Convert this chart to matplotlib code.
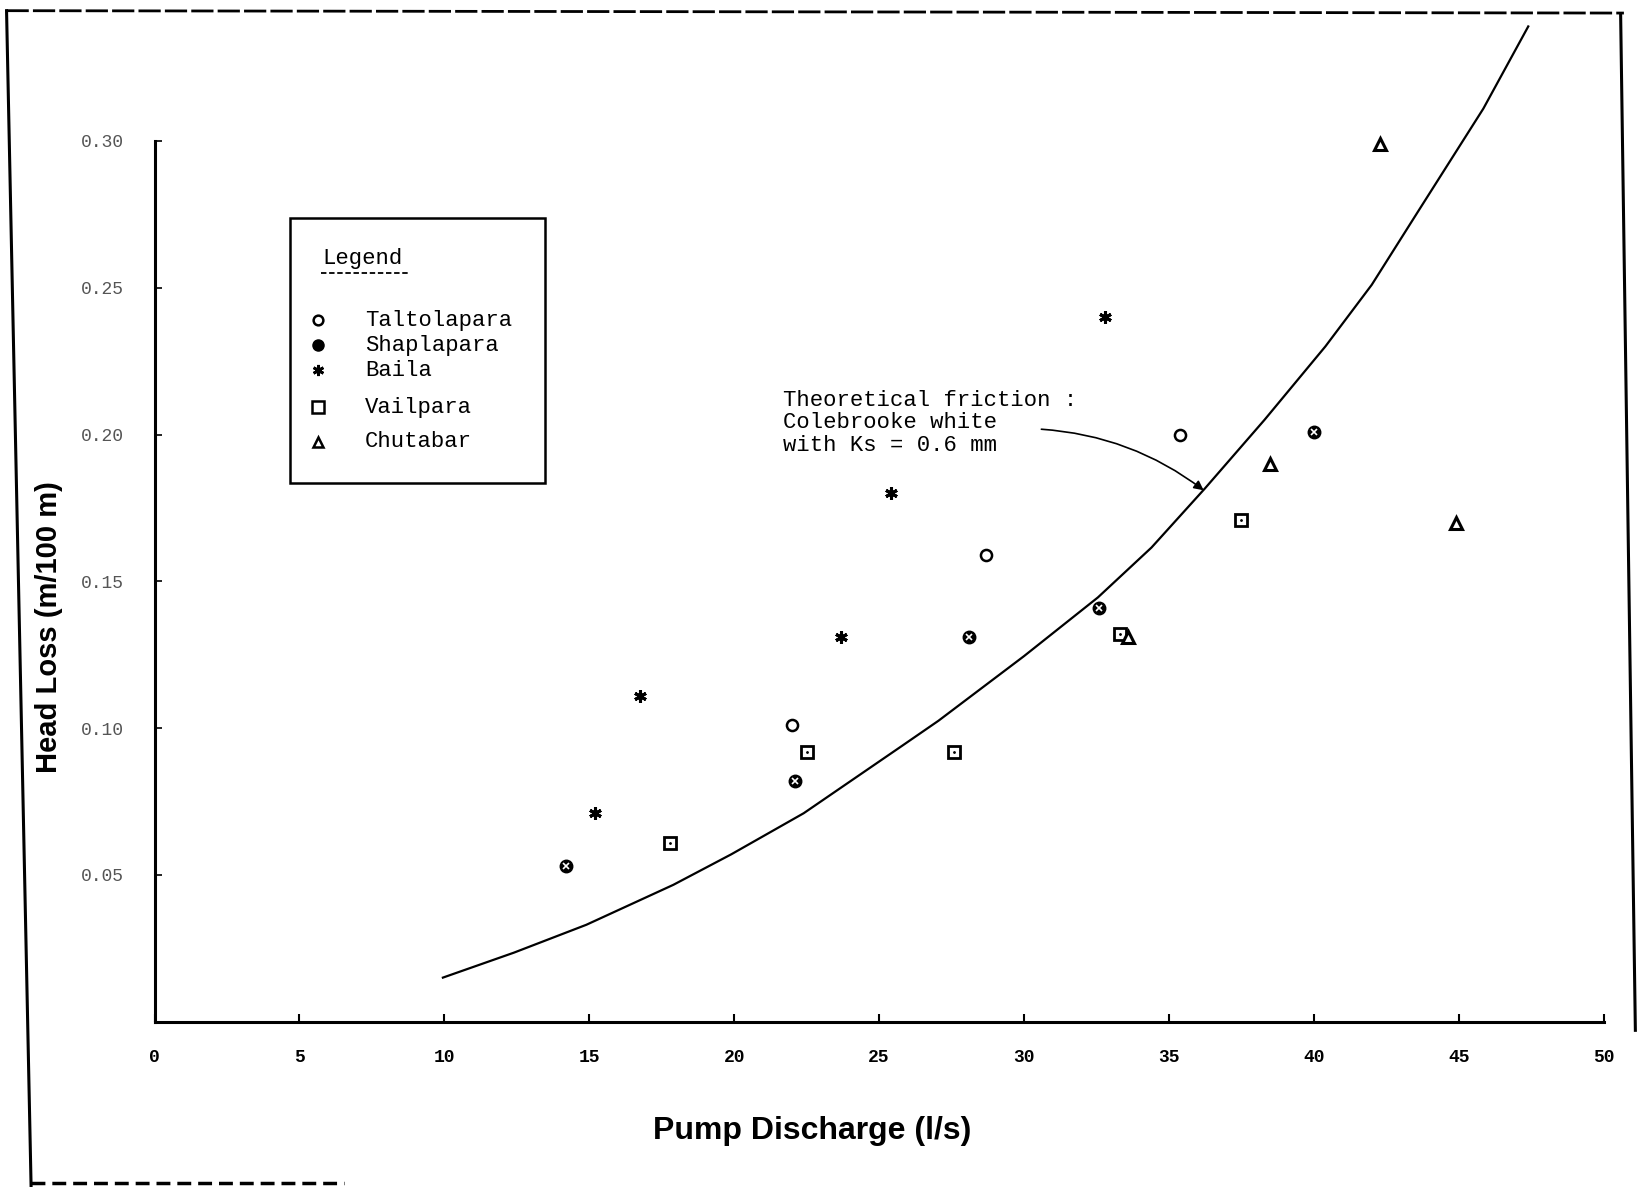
import numpy as np
import matplotlib.pyplot as plt
from matplotlib.lines import Line2D
from matplotlib.patches import Rectangle

# values
talto_q = [22.0, 28.7, 35.4]
talto_h = [0.101, 0.159, 0.200]

shapla_q = [14.2, 22.1, 28.1, 32.6, 40.0]
shapla_h = [0.053, 0.082, 0.131, 0.141, 0.201]

baila_q = [15.2, 16.75, 23.7, 25.4, 32.8]
baila_h = [0.071, 0.111, 0.131, 0.180, 0.240]

vail_q = [17.8, 22.5, 27.6, 33.3, 37.5]
vail_h = [0.061, 0.092, 0.092, 0.132, 0.171]

chuta_q = [33.6, 38.5, 44.9, 42.3]
chuta_h = [0.131, 0.190, 0.170, 0.299]

# theoretical curve (Colebrooke-White, Ks = 0.6 mm)
curve_q = [9.95, 12.4, 14.9, 17.9, 19.9, 22.4, 25.8, 27.05, 30.0, 32.55, 34.4,
           36.25, 38.3, 40.4, 42.0, 43.6, 45.85, 47.4]
curve_h = [0.015, 0.0235, 0.033, 0.0466, 0.057, 0.071, 0.094, 0.1025, 0.1245, 0.1445, 0.1615,
           0.1817, 0.205, 0.230, 0.251, 0.276, 0.311, 0.339]

xticks = [0, 5, 10, 15, 20, 25, 30, 35, 40, 45, 50]
yticks = [0.05, 0.10, 0.15, 0.20, 0.25, 0.30]

mono = ['Liberation Mono', 'DejaVu Sans Mono']
narrow = ['Liberation Sans Narrow', 'Liberation Sans', 'DejaVu Sans']

fig = plt.figure(figsize=(16.37, 11.87), dpi=100)
ax = fig.add_axes([0.0944, 0.1393, 0.8852, 0.8409])

ax.plot(curve_q, curve_h, color='black', lw=1.6, clip_on=False, solid_joinstyle='round')

ax.plot(talto_q, talto_h, 'o', ms=8, mfc='white', mec='black', mew=1.8, clip_on=False)
ax.plot(shapla_q, shapla_h, 'o', ms=9, mfc='black', mec='black', clip_on=False)
ax.plot(shapla_q, shapla_h, 'x', ms=4, mec='white', mew=1.2, clip_on=False)
ax.plot(baila_q, baila_h, marker=(6, 2, 0), ls='none', ms=9, mec='black', mew=2.2, clip_on=False)
ax.plot(vail_q, vail_h, 's', ms=8, mfc='white', mec='black', mew=2, clip_on=False)
ax.plot(vail_q, vail_h, '.', ms=2, color='black', clip_on=False)
ax.plot(chuta_q, chuta_h, '^', ms=8, mfc='white', mec='black', mew=2.2, clip_on=False)

ax.set_xlim(0, 50)
ax.set_ylim(0, 0.34)
for s in ['top', 'right']:
    ax.spines[s].set_visible(False)
ax.spines['left'].set_bounds(0, 0.30)
ax.spines['left'].set_linewidth(2.2)
ax.spines['bottom'].set_linewidth(2.2)

ax.set_xticks(xticks)
ax.set_xticklabels([str(t) for t in xticks], family=mono, fontsize=13, fontweight='bold')
ax.set_yticks(yticks)
ax.set_yticklabels(['%.2f' % t for t in yticks], family=mono, fontsize=13, color='#555555')
ax.tick_params(axis='x', direction='in', length=6, width=1.5, pad=20)
ax.tick_params(axis='y', direction='in', length=5, width=1.2, pad=22)

fig.text(0.030, 0.472, 'Head Loss (m/100 m)', rotation=90, ha='center', va='center',
         fontsize=21, fontweight='bold', family=narrow)
fig.text(0.496, 0.047, 'Pump Discharge (l/s)', ha='center', va='center',
         fontsize=23, fontweight='bold', family=narrow)

# annotation with arrow to the curve
ax.text(21.7, 0.204, 'Theoretical friction :\nColebrooke white\nwith Ks = 0.6 mm',
        family=mono, fontsize=16, ha='left', va='center', linespacing=1.1)
ax.annotate('', xy=(36.2, 0.181), xytext=(30.6, 0.2018),
            arrowprops=dict(arrowstyle='-|>', color='black', lw=1.2, mutation_scale=14,
                            shrinkA=0, shrinkB=0, connectionstyle='arc3,rad=-0.15'))

# hand-drawn legend box
fig.add_artist(Rectangle((0.177, 0.593), 0.156, 0.223, transform=fig.transFigure,
                         fill=False, lw=1.8, ec='black'))
fig.text(0.197, 0.782, 'Legend', family=mono, fontsize=16, ha='left', va='center')
fig.add_artist(Line2D([0.196, 0.249], [0.770, 0.770], transform=fig.transFigure,
                      color='black', lw=1.3, ls=(0, (3, 1.5))))

leg_names = ['Taltolapara', 'Shaplapara', 'Baila', 'Vailpara', 'Chutabar']
leg_y = [0.730, 0.709, 0.688, 0.657, 0.628]
leg_styles = [dict(marker='o', ms=7, mfc='white', mec='black', mew=1.8),
              dict(marker='o', ms=8, mfc='black', mec='black'),
              dict(marker=(6, 2, 0), ms=8, mec='black', mew=2),
              dict(marker='s', ms=8, mfc='white', mec='black', mew=1.8),
              dict(marker='^', ms=7, mfc='white', mec='black', mew=1.8)]
for name, yy, st in zip(leg_names, leg_y, leg_styles):
    fig.add_artist(Line2D([0.194], [yy], transform=fig.transFigure, ls='none', **st))
    fig.text(0.223, yy, name, family=mono, fontsize=16, ha='left', va='center')

# scanned page border
fig.add_artist(Line2D([0.004, 0.019], [0.991, 0.0], transform=fig.transFigure, color='black', lw=2.2))
fig.add_artist(Line2D([0.004, 0.992], [0.991, 0.989], transform=fig.transFigure, color='black',
                      lw=2, ls=(0, (8, 1.5))))
fig.add_artist(Line2D([0.990, 0.999], [0.988, 0.132], transform=fig.transFigure, color='black', lw=2.2))
fig.add_artist(Line2D([0.019, 0.21], [0.003, 0.003], transform=fig.transFigure, color='black',
                      lw=2.5, ls=(0, (4, 2))))

fig.savefig('out.png', dpi=100)
